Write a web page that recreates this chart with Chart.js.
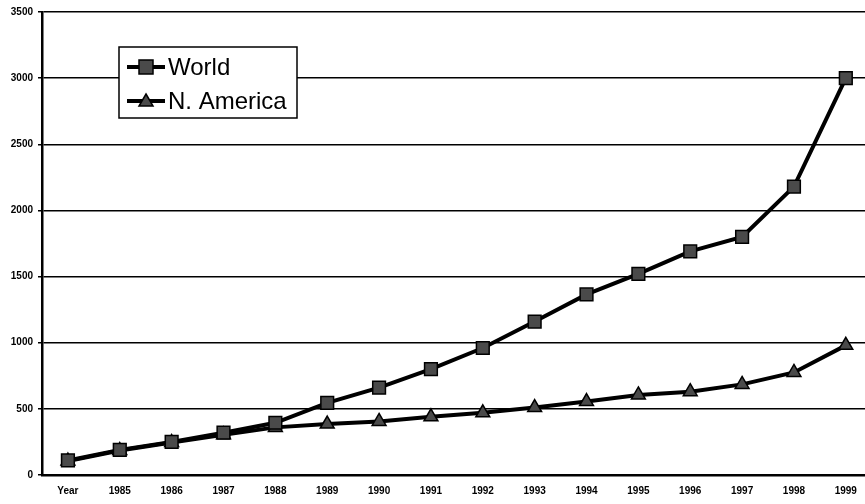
<!DOCTYPE html>
<html>
<head>
<meta charset="utf-8">
<script src="https://cdn.jsdelivr.net/npm/chart.js@4/dist/chart.umd.min.js"></script>
<style>
  html, body { margin: 0; padding: 0; background: #fff; overflow: hidden; }
  #wrap { width: 865px; height: 504px; }
</style>
</head>
<body>
<div id="wrap"><canvas id="chartCanvas"></canvas></div>
<script>
// x categories as printed on the axis
const years = ['Year', '1985', '1986', '1987', '1988', '1989', '1990', '1991',
  '1992', '1993', '1994', '1995', '1996', '1997', '1998', '1999'];

// values
const worldValues = [110, 190, 250, 320, 395, 545, 660, 800, 960, 1160,
  1365, 1520, 1690, 1800, 2180, 3000];
const naValues = [105, 185, 245, 305, 360, 385, 405, 440, 470, 510,
  555, 605, 630, 685, 775, 980];

const yTicks = [0, 500, 1000, 1500, 2000, 2500, 3000, 3500];

const markerFill = '#4a4a4a';

// the scan cuts the plot off on the right, so the x range is a bit short there
const xMin = -0.5;
const xMax = 15.37;

const toPoints = vals => vals.map((v, i) => ({ x: i, y: v }));

// legend box drawn inside the plot, like the original
const boxLegend = {
  id: 'boxLegend',
  afterDraw(chart) {
    const ctx = chart.ctx;
    const x0 = 119, y0 = 47, w = 178, h = 71;
    ctx.save();
    ctx.fillStyle = '#fff';
    ctx.fillRect(x0, y0, w, h);
    ctx.strokeStyle = '#000';
    ctx.lineWidth = 1.5;
    ctx.strokeRect(x0, y0, w, h);

    const rows = [67, 101];
    chart.data.datasets.forEach((ds, i) => {
      const cy = rows[i];
      ctx.strokeStyle = '#000';
      ctx.lineWidth = 4;
      ctx.beginPath();
      ctx.moveTo(127, cy);
      ctx.lineTo(165, cy);
      ctx.stroke();
      ctx.fillStyle = markerFill;
      ctx.lineWidth = 1.5;
      if (ds.pointStyle === 'rect') {
        ctx.fillRect(139, cy - 7, 14, 14);
        ctx.strokeRect(139, cy - 7, 14, 14);
      } else {
        ctx.beginPath();
        ctx.moveTo(146, cy - 7);
        ctx.lineTo(153, cy + 5);
        ctx.lineTo(139, cy + 5);
        ctx.closePath();
        ctx.fill();
        ctx.stroke();
      }
      ctx.fillStyle = '#000';
      ctx.font = '24px "Liberation Sans", Arial, sans-serif';
      ctx.textBaseline = 'middle';
      ctx.textAlign = 'left';
      ctx.fillText(ds.label, 168, cy + 1);
    });
    ctx.restore();
  }
};

const ctx = document.getElementById('chartCanvas').getContext('2d');

new Chart(ctx, {
  type: 'line',
  data: {
    datasets: [
      {
        label: 'World',
        data: toPoints(worldValues),
        borderColor: '#000',
        borderWidth: 4,
        pointStyle: 'rect',
        pointRadius: 9,
        pointBackgroundColor: markerFill,
        pointBorderColor: '#000',
        pointBorderWidth: 1.5,
        tension: 0
      },
      {
        label: 'N. America',
        data: toPoints(naValues),
        borderColor: '#000',
        borderWidth: 4,
        pointStyle: 'triangle',
        pointRadius: 8,
        pointBackgroundColor: markerFill,
        pointBorderColor: '#000',
        pointBorderWidth: 1.5,
        tension: 0
      }
    ]
  },
  options: {
    responsive: true,
    maintainAspectRatio: false,
    animation: false,
    layout: { autoPadding: false, padding: { top: 12, right: 0, left: 0, bottom: 0 } },
    plugins: {
      legend: { display: false },
      tooltip: { enabled: false }
    },
    scales: {
      x: {
        type: 'linear',
        min: xMin,
        max: xMax,
        afterBuildTicks: s => { s.ticks = years.map((y, i) => ({ value: i })); },
        grid: { display: false, drawTicks: false },
        border: { display: true, color: '#000', width: 2.5 },
        ticks: {
          color: '#000',
          padding: 10,
          maxRotation: 0,
          autoSkip: false,
          callback: v => years[v],
          font: { family: '"Liberation Sans", Arial, sans-serif', size: 10, weight: 'bold' }
        },
        afterFit: s => {
          s.height = 29;
          s.paddingLeft = 0;
          s.paddingRight = 0;
        }
      },
      y: {
        min: 0,
        max: 3500,
        afterBuildTicks: s => { s.ticks = yTicks.map(v => ({ value: v })); },
        grid: { color: '#000', lineWidth: 1.5, tickLength: 4, drawTicks: true },
        border: { display: true, color: '#000', width: 2.5 },
        ticks: {
          color: '#000',
          padding: 5,
          callback: v => String(v),
          font: { family: '"Liberation Sans", Arial, sans-serif', size: 10, weight: 'bold' }
        },
        afterFit: s => {
          s.width = 42;
          s.paddingTop = 0;
          s.paddingBottom = 0;
        }
      }
    }
  },
  plugins: [boxLegend]
});
</script>
</body>
</html>
